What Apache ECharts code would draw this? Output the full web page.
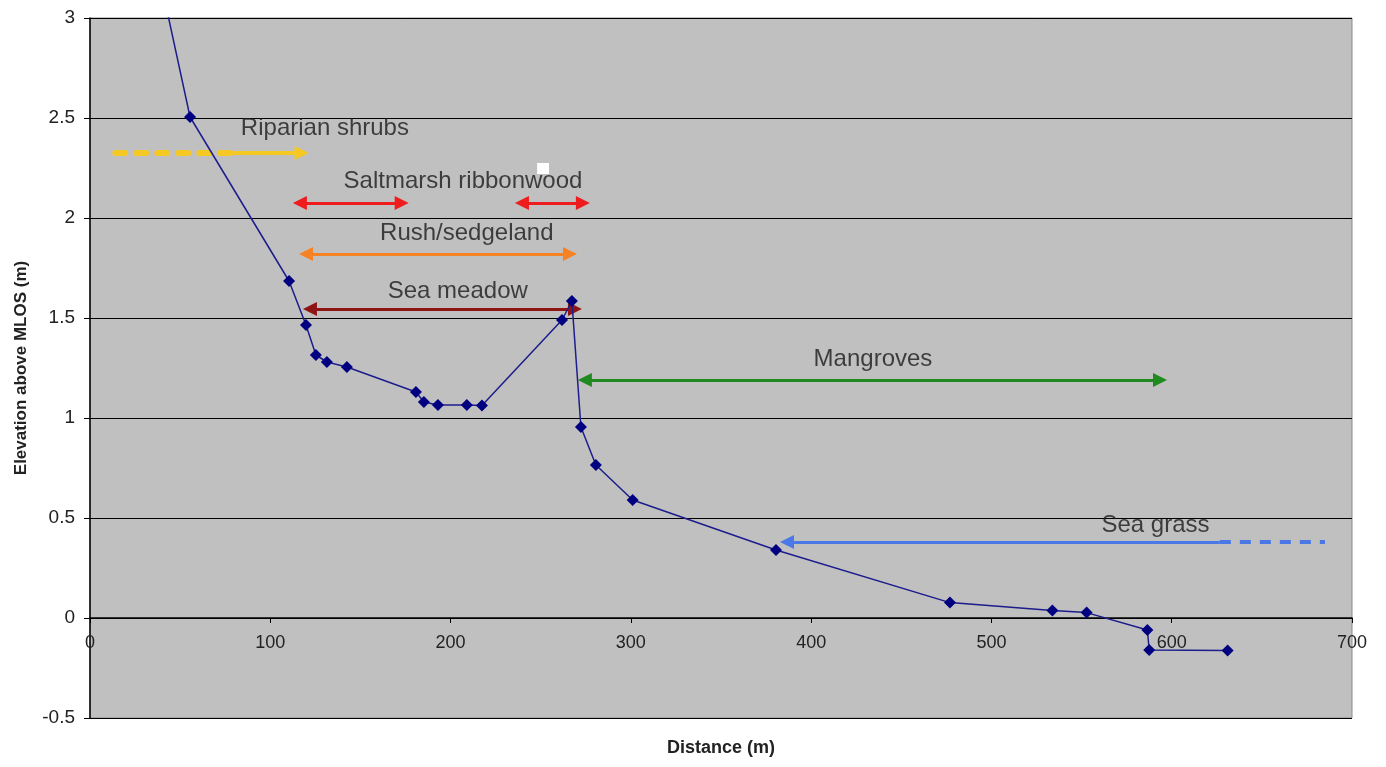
<!DOCTYPE html>
<html>
<head>
<meta charset="utf-8">
<script src="https://cdn.jsdelivr.net/npm/echarts@6/dist/echarts.min.js"></script>
<style>html,body{margin:0;padding:0;background:#fff}#c{width:1386px;height:767px}</style>
</head>
<body>
<div id="c"></div>
<script>
// Profile data: distance (m) vs elevation above MLOS (m)
const distance = [36.4, 55.5, 110.4, 119.8, 125.3, 131.4, 142.5, 180.8, 185.2, 193, 209, 217.4, 261.8, 267.3, 272.3, 280.6, 301, 380.5, 477, 533.8, 552.8, 586.5, 587.5, 631];
const elevation = [3.3, 2.505, 1.685, 1.465, 1.315, 1.28, 1.255, 1.13, 1.08, 1.065, 1.065, 1.062, 1.49, 1.585, 0.955, 0.765, 0.59, 0.34, 0.077, 0.037, 0.027, -0.06, -0.16, -0.163];

// Vegetation zone labels (text centre in data units)
const zoneNames = ['Riparian shrubs', 'Saltmarsh ribbonwood', 'Rush/sedgeland', 'Sea meadow', 'Mangroves', 'Sea grass'];
const zoneLabelX = [130.3, 206.9, 209, 204, 434.3, 591];
const zoneLabelY = [2.45, 2.185, 1.925, 1.635, 1.295, 0.465];

// Zone extent segments (data units)
const segFromX = [14, 77.6, 116.4, 239.6, 119.8, 122, 274.5, 386.6, 626.7];
const segToX   = [77.6, 117.4, 172.9, 273.4, 266.2, 269, 593.5, 626.7, 685];
const segY     = [2.325, 2.325, 2.075, 2.075, 1.82, 1.545, 1.19, 0.38, 0.38];

const xTicks = [0, 100, 200, 300, 400, 500, 600, 700];
const yTicks = [-0.5, 0, 0.5, 1, 1.5, 2, 2.5, 3];

// styles per segment
const segStyle = [
  {color: '#f5c823', width: 6, type: [10, 11], sym: ['none', 'none']},
  {color: '#f5c823', width: 4, type: 'solid', sym: ['none', 'triangle']},
  {color: '#ee1c1c', width: 3, type: 'solid', sym: ['triangle', 'triangle']},
  {color: '#ee1c1c', width: 3, type: 'solid', sym: ['triangle', 'triangle']},
  {color: '#f58326', width: 3, type: 'solid', sym: ['triangle', 'triangle']},
  {color: '#8f1414', width: 3, type: 'solid', sym: ['triangle', 'triangle']},
  {color: '#1f8a1f', width: 3, type: 'solid', sym: ['triangle', 'triangle']},
  {color: '#4a78e6', width: 3, type: 'solid', sym: ['triangle', 'none']},
  {color: '#4a78e6', width: 4, type: [11, 9], sym: ['none', 'none']}
];

const FONT = '"Liberation Sans", Arial, sans-serif';
const chart = echarts.init(document.getElementById('c'), null, {renderer: 'canvas'});

const segSeries = segFromX.map((x1, i) => ({
  type: 'lines',
  coordinateSystem: 'cartesian2d',
  z: 3,
  silent: true,
  symbol: segStyle[i].sym,
  symbolSize: 14,
  lineStyle: {color: segStyle[i].color, width: segStyle[i].width, type: segStyle[i].type, cap: i === 0 ? 'round' : 'butt', opacity: 1, curveness: 0},
  data: [{coords: [[x1, segY[i]], [segToX[i], segY[i]]]}]
}));

const option = {
  animation: false,
  backgroundColor: '#ffffff',
  grid: {
    left: 90, right: 34, top: 18, bottom: 49,
    containLabel: false, outerBoundsMode: 'none',
    show: true, backgroundColor: '#c0c0c0', borderColor: '#8a8a8a', borderWidth: 1
  },
  xAxis: {
    type: 'value', min: xTicks[0], max: xTicks[xTicks.length - 1], interval: 100,
    position: 'bottom', offset: -100,
    axisLine: {onZero: false, lineStyle: {color: '#000', width: 1.5}},
    axisTick: {show: true, inside: false, length: 5, lineStyle: {color: '#000'}},
    axisLabel: {color: '#222', fontSize: 18, fontFamily: FONT, margin: 16},
    splitLine: {show: false}
  },
  yAxis: {
    type: 'value', min: yTicks[0], max: yTicks[yTicks.length - 1], interval: 0.5,
    axisLine: {show: true, onZero: false, lineStyle: {color: '#000', width: 1.5}},
    axisTick: {show: true, inside: false, length: 6, lineStyle: {color: '#000'}},
    axisLabel: {color: '#222', fontSize: 19, fontFamily: FONT, margin: 15},
    splitLine: {show: true, lineStyle: {color: '#000', width: 1.2}},
    name: 'Elevation above MLOS (m)', nameLocation: 'middle', nameGap: 60, nameRotate: 90,
    nameTextStyle: {color: '#222', fontSize: 17, fontWeight: 'bold', fontFamily: FONT}
  },
  graphic: [{
    type: 'text', x: 721, y: 748,
    style: {text: 'Distance (m)', fill: '#222', font: 'bold 18px ' + FONT, textAlign: 'center', textVerticalAlign: 'middle'}
  }],
  series: [
    {
      type: 'line',
      z: 4,
      clip: true,
      data: distance.map((d, i) => [d, elevation[i]]),
      symbol: 'diamond', symbolSize: 12, showSymbol: true,
      lineStyle: {color: '#1c1c8c', width: 1.5},
      itemStyle: {color: '#000080', borderWidth: 0},
      markArea: {
        silent: true,
        itemStyle: {color: '#ffffff', opacity: 1},
        data: [[{coord: [248, 2.275]}, {coord: [254.6, 2.22]}]]
      }
    },
    ...segSeries,
    {
      type: 'scatter',
      z: 5,
      silent: true,
      symbolSize: 0,
      data: zoneNames.map((n, i) => ({value: [zoneLabelX[i], zoneLabelY[i]], name: n})),
      label: {
        show: true, position: 'inside', formatter: p => p.name,
        color: '#1a1a1a', fontSize: 24, fontFamily: FONT
      }
    }
  ]
};
chart.setOption(option);
</script>
</body>
</html>
